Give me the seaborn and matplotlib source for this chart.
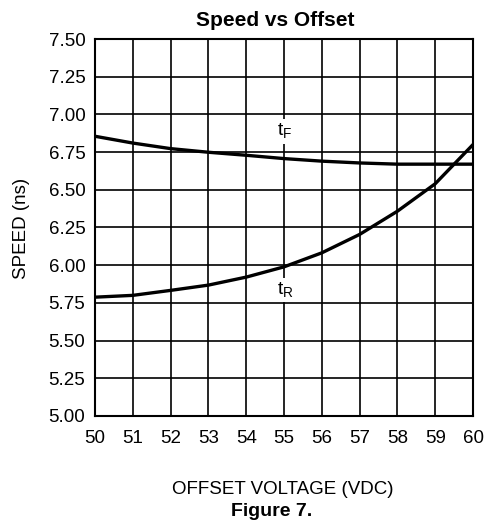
import matplotlib
matplotlib.use("Agg")
import matplotlib.pyplot as plt
import seaborn as sns
import pandas as pd

offset = [50, 51, 52, 53, 54, 55, 56, 57, 58, 59, 60]
t_fall = [6.855, 6.81, 6.773, 6.749, 6.729, 6.707, 6.69, 6.678, 6.67, 6.67, 6.67]
t_rise = [5.788, 5.80, 5.833, 5.868, 5.921, 5.989, 6.082, 6.204, 6.358, 6.54, 6.80]
yticks = [5.00, 5.25, 5.50, 5.75, 6.00, 6.25, 6.50, 6.75, 7.00, 7.25, 7.50]

sns.set_style("white")
plt.rcParams['font.family'] = ['Liberation Sans', 'DejaVu Sans']
plt.rcParams['mathtext.fontset'] = 'custom'
plt.rcParams['mathtext.rm'] = 'Liberation Sans'
plt.rcParams['text.color'] = 'black'
plt.rcParams['xtick.color'] = 'black'
plt.rcParams['ytick.color'] = 'black'

df = pd.DataFrame({"x": offset, "tF": t_fall, "tR": t_rise})

W, H = 491, 527
fig = plt.figure(figsize=(W / 100, H / 100), dpi=100)
l, r, t, b = 95, 473, 39, 416
ax = fig.add_axes([l / W, 1 - b / H, (r - l) / W, (b - t) / H])

sns.lineplot(data=df, x="x", y="tF", ax=ax, color="black", lw=2.4)
sns.lineplot(data=df, x="x", y="tR", ax=ax, color="black", lw=2.4)

ax.set_xlim(50, 60)
ax.set_ylim(5.0, 7.5)
ax.set_xticks(offset)
ax.set_yticks(yticks)
ax.set_yticklabels([f"{v:.2f}" for v in yticks])
ax.grid(True, color="black", lw=1.2)
ax.set_axisbelow(True)
for s in ax.spines.values():
    s.set_color("black")
    s.set_linewidth(1.5)
ax.tick_params(axis="both", labelsize=13.5, length=0, colors="black", labelcolor="black")
ax.tick_params(axis="x", pad=10)
ax.tick_params(axis="y", pad=7)

ax.text(55.02, 6.885, r"t$_\mathregular{F}$", ha="center", va="center", fontsize=14,
        color="black", bbox=dict(facecolor="white", edgecolor="none", pad=2))
ax.text(55.05, 5.835, r"t$_\mathregular{R}$", ha="center", va="center", fontsize=14,
        color="black", bbox=dict(facecolor="white", edgecolor="none", pad=2))

ax.set_xlabel("")
ax.set_ylabel("")
fig.text(275 / W, 1 - 20 / H, "Speed vs Offset", ha="center", va="center",
         fontsize=15, fontweight="bold", color="black")
fig.text(22 / W, 1 - 228 / H, "SPEED (ns)", ha="center", va="center",
         fontsize=13.5, rotation=90, color="black")
fig.text(283 / W, 1 - 489 / H, "OFFSET VOLTAGE (VDC)", ha="center", va="center",
         fontsize=13.5, color="black")
fig.text(272 / W, 1 - 512 / H, "Figure 7.", ha="center", va="center", fontsize=14,
         fontweight="bold", color="black")

fig.savefig("out.png", dpi=100)
